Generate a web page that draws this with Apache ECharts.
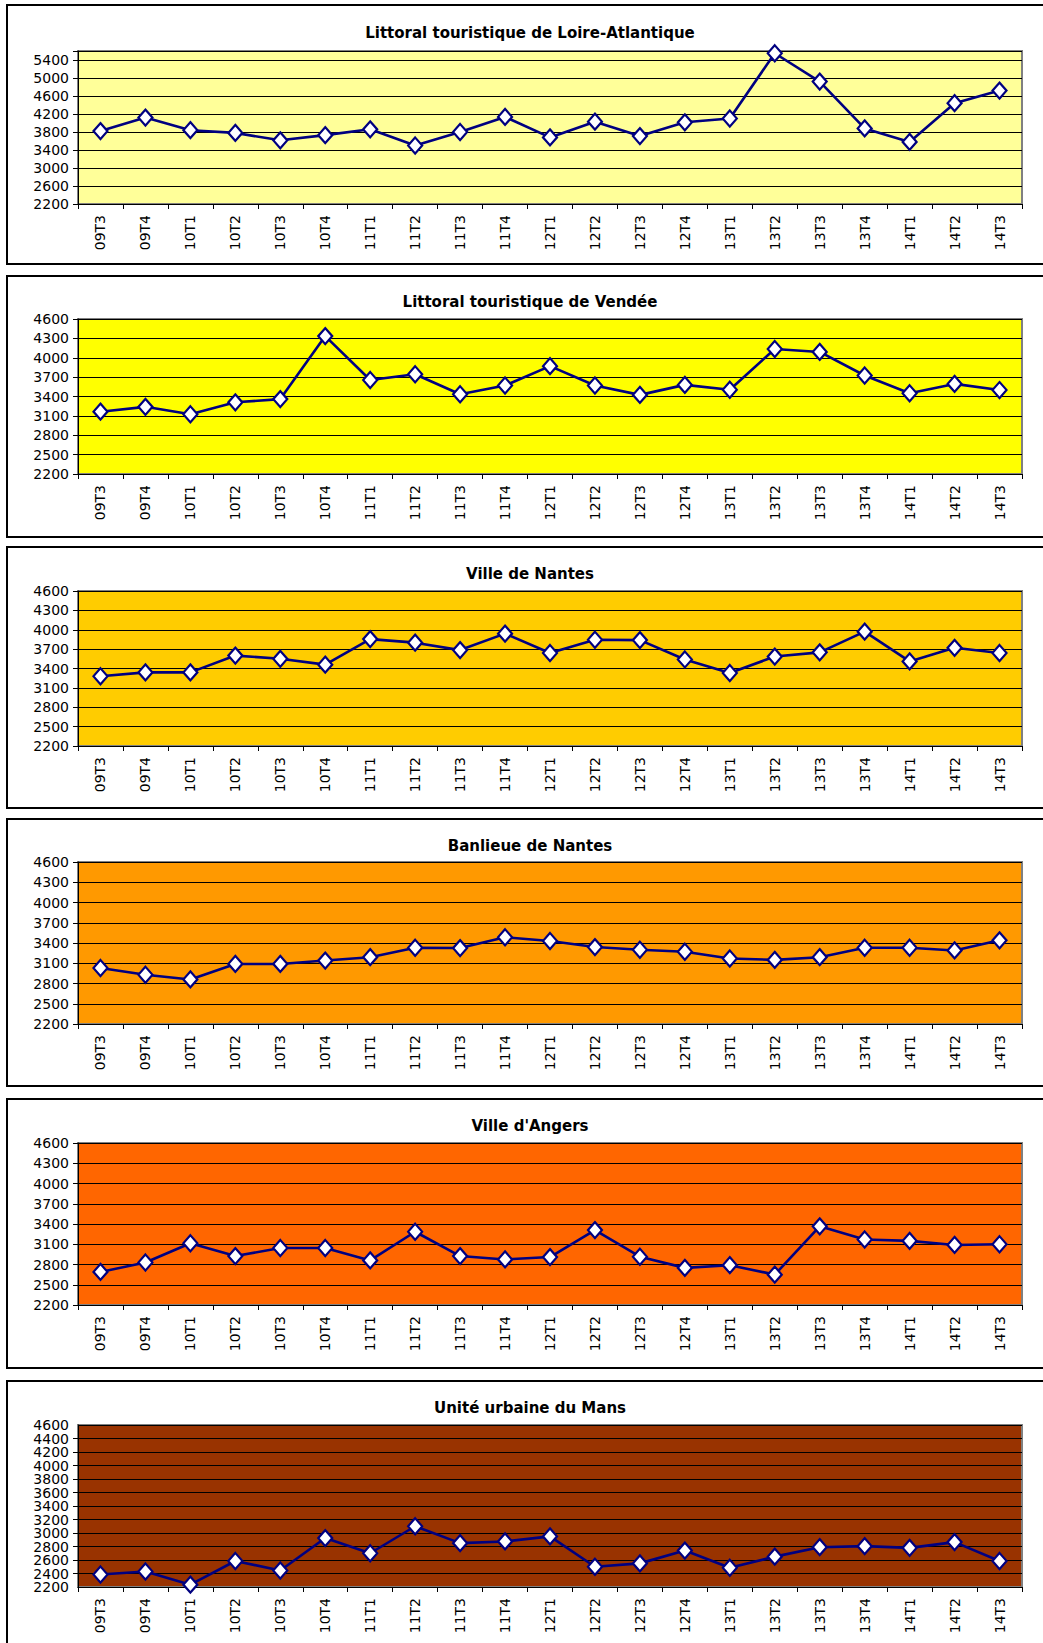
<!DOCTYPE html>
<html><head><meta charset="utf-8">
<script src="https://cdn.jsdelivr.net/npm/echarts@6/dist/echarts.min.js"></script>
<style>html,body{margin:0;padding:0;background:#fff}#c{width:1043px;height:1643px}</style>
</head><body><div id="c"></div>
<script>
const categories = ['09T3','09T4','10T1','10T2','10T3','10T4','11T1','11T2','11T3','11T4','12T1','12T2','12T3','12T4','13T1','13T2','13T3','13T4','14T1','14T2','14T3'];
const loireAtlantique = [3820,4120,3840,3780,3615,3730,3860,3500,3800,4135,3680,4030,3710,4015,4100,5550,4920,3880,3580,4440,4720];
const vendee = [3165,3240,3125,3310,3360,4335,3655,3745,3435,3570,3870,3570,3425,3580,3505,4135,4090,3725,3450,3595,3500];
const villeNantes = [3280,3340,3340,3600,3550,3460,3855,3800,3685,3940,3640,3845,3840,3540,3330,3585,3650,3970,3510,3720,3640];
const banlieueNantes = [3030,2930,2860,3090,3090,3140,3190,3330,3325,3485,3430,3340,3300,3270,3170,3150,3190,3330,3330,3290,3440];
const villeAngers = [2690,2830,3115,2925,3045,3045,2860,3285,2925,2875,2910,3310,2915,2750,2790,2650,3365,3170,3150,3090,3100];
const leMans = [2385,2430,2235,2585,2445,2925,2700,3100,2850,2875,2950,2500,2550,2740,2485,2650,2790,2805,2780,2865,2585];
const titles = ['Littoral touristique de Loire-Atlantique','Littoral touristique de Vendée','Ville de Nantes','Banlieue de Nantes',"Ville d'Angers",'Unité urbaine du Mans'];
const seriesData = [loireAtlantique, vendee, villeNantes, banlieueNantes, villeAngers, leMans];
const yMin = [2200,2200,2200,2200,2200,2200];
const yMax = [5600,4600,4600,4600,4600,4600];
const yStep = [400,300,300,300,300,200];

// layout / style (kept apart from data)
const plotTop = [51,319,591,862,1143,1425];
const plotBottom = [204,474,746,1024,1305,1587];
const boxTop = [5,276,547,819,1099,1381];
const boxBottom = [264,537,808,1086,1368,1760];
const titleY = [33,302,574,846,1126,1408];
const bgColors = ['#FFFF99','#FFFF00','#FFCC00','#FF9900','#FF6600','#993300'];
const plotLeft = 78, plotWidth = 944;
const labelFont = 'DejaVu Sans';

const chart = echarts.init(document.getElementById('c'), null, {renderer:'svg'});
const grid = [], xAxis = [], yAxis = [], series = [], graphic = [], extraY = [];
for (let i = 0; i < 6; i++) {
  grid.push({left: plotLeft, width: plotWidth, top: plotTop[i], height: plotBottom[i]-plotTop[i],
    show: true, backgroundColor: bgColors[i], borderColor: '#808080', borderWidth: 2, containLabel: false});
  xAxis.push({type: 'category', gridIndex: i, data: categories, boundaryGap: true,
    axisLine: {show: true, lineStyle: {color: '#000', width: 1}},
    axisTick: {show: true, length: 5, inside: false, alignWithLabel: false, interval: 0, lineStyle: {color: '#000'}},
    axisLabel: {rotate: 90, interval: 0, margin: 11, color: '#000', fontFamily: labelFont, fontSize: 14, hideOverlap: false},
    splitLine: {show: false}});
  const mn = yMin[i], mx = yMax[i], st = yStep[i];
  const crowded = (i === 5);
  yAxis.push({type: 'value', gridIndex: i, position: 'left', min: mn, max: mx, interval: st,
    axisLine: {show: true, lineStyle: {color: '#000', width: 1}},
    axisTick: {show: true, length: 5, lineStyle: {color: '#000'}},
    axisLabel: {color: '#000', fontFamily: labelFont, fontSize: 14, margin: 9,
      showMinLabel: crowded ? false : true, showMaxLabel: crowded ? false : true,
      formatter: v => ((v - mn) % st === 0 ? String(v) : '')},
    splitLine: {show: true, lineStyle: {color: '#000', width: 1}}});
  if (crowded) {
    extraY.push({type: 'value', gridIndex: i, position: 'left', offset: 0, min: mn, max: mx, interval: st,
      axisLine: {show: false, onZero: false}, axisTick: {show: false}, splitLine: {show: false},
      axisLabel: {color: '#000', fontFamily: labelFont, fontSize: 14, margin: 9,
        showMinLabel: true, showMaxLabel: true,
        formatter: v => ((v === mn || v === mx) ? String(v) : '')}});
  }
  series.push({type: 'line', xAxisIndex: i, yAxisIndex: i, data: seriesData[i],
    symbol: 'diamond', symbolSize: [14,16], showAllSymbol: true,
    lineStyle: {color: '#000080', width: 2.6},
    itemStyle: {color: '#ffffff', borderColor: '#000080', borderWidth: 2.2},
    emphasis: {disabled: true}, z: 3});
  graphic.push({type: 'rect', shape: {x: 7, y: boxTop[i], width: 1100, height: boxBottom[i]-boxTop[i]},
    style: {fill: 'none', stroke: '#000', lineWidth: 2}, silent: true, z: 10});
  graphic.push({type: 'text', x: 530, y: titleY[i],
    style: {text: titles[i], textAlign: 'center', textVerticalAlign: 'middle',
      font: 'bold 15px "DejaVu Sans"', fill: '#000'}, silent: true, z: 10});
}
chart.setOption({animation: false, backgroundColor: '#fff', grid, xAxis, yAxis: yAxis.concat(extraY), series, graphic});
</script></body></html>
